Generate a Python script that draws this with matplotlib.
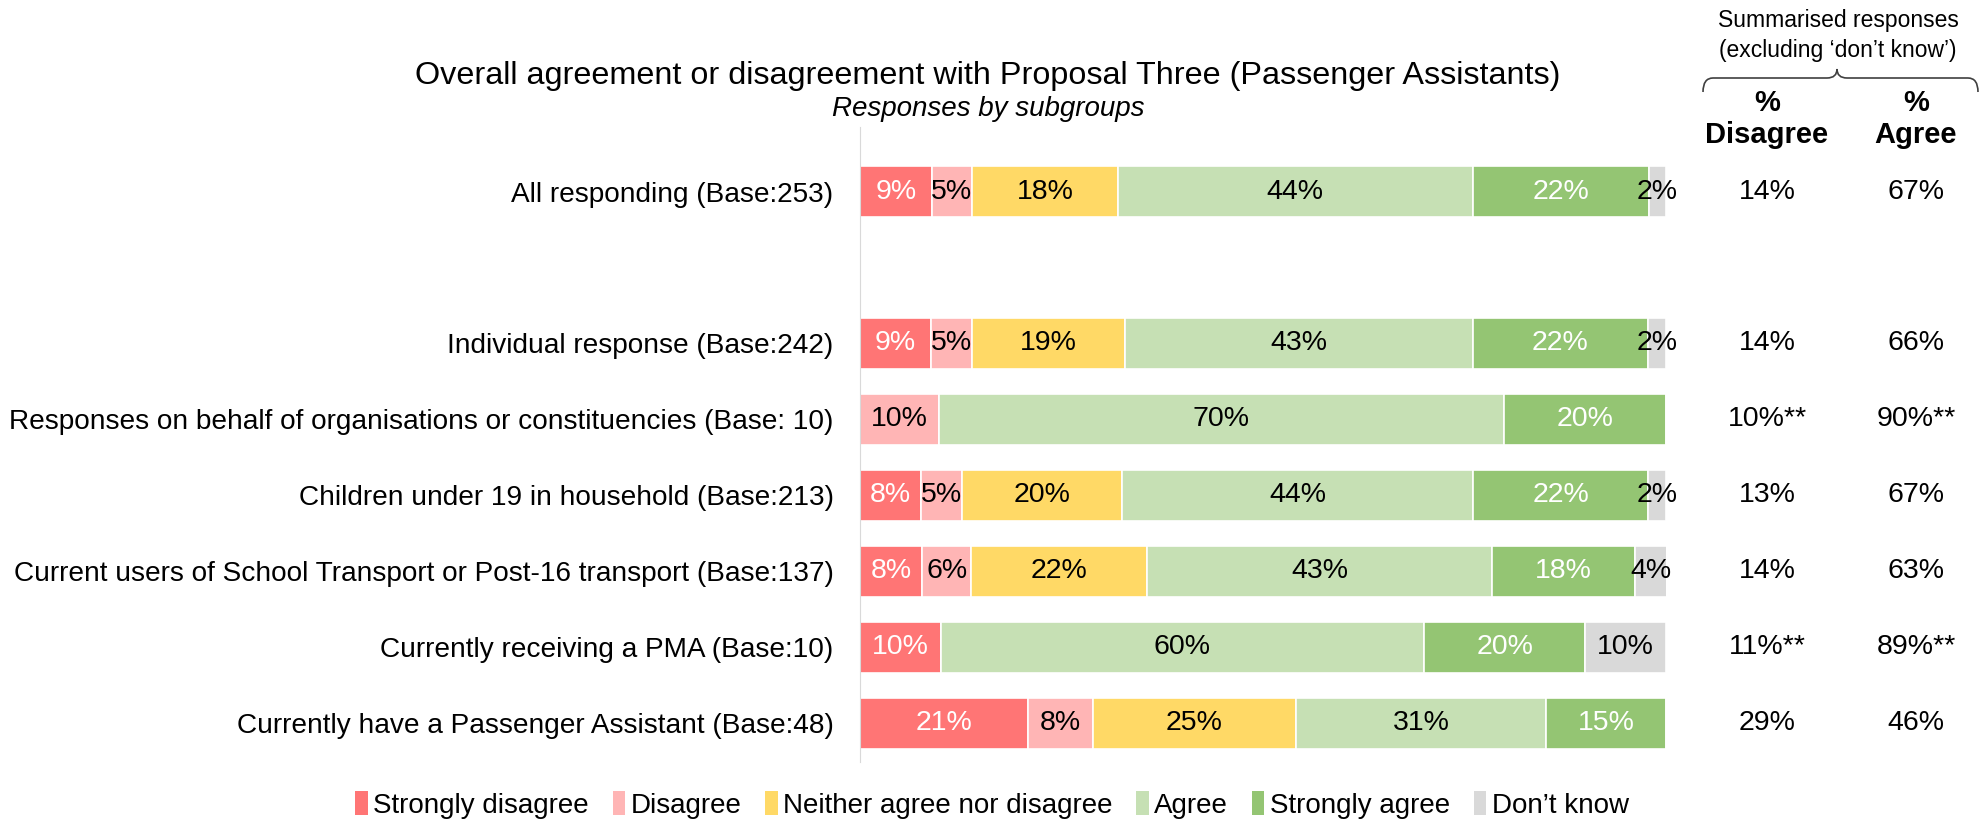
#Proposal Three - subgroup agreement stacked bars
import matplotlib
matplotlib.use("Agg")
import matplotlib.pyplot as plt
from matplotlib.path import Path
from matplotlib.patches import PathPatch, Patch
from matplotlib.transforms import blended_transform_factory

plt.rcParams['font.family'] = ['Liberation Sans', 'DejaVu Sans']

groups = [
    "All responding (Base:253)",
    "Individual response (Base:242)",
    "Responses on behalf of organisations or constituencies (Base: 10)",
    "Children under 19 in household (Base:213)",
    "Current users of School Transport or Post-16 transport (Base:137)",
    "Currently receiving a PMA (Base:10)",
    "Currently have a Passenger Assistant (Base:48)",
]

categories = ["Strongly disagree", "Disagree", "Neither agree nor disagree",
              "Agree", "Strongly agree", "Don\u2019t know"]

strongly_disagree = [8.9, 8.8, 0, 7.6, 7.7, 10.0, 20.8]
disagree = [5.0, 5.1, 9.8, 5.1, 6.1, 0, 8.1]
neither = [18.1, 19.0, 0, 19.8, 21.8, 0, 25.2]
agree = [44.0, 43.1, 70.1, 43.6, 42.8, 60.0, 31.0]
strongly_agree = [21.9, 21.8, 20.1, 21.7, 17.7, 20.0, 14.9]
dont_know = [2.1, 2.2, 0, 2.2, 4.0, 10.0, 0]

pct_disagree = ["14%", "14%", "10%**", "13%", "14%", "11%**", "29%"]
pct_agree = ["67%", "66%", "90%**", "67%", "63%", "89%**", "46%"]

colors = ["#FF7575", "#FFB5B5", "#FFD966", "#C6E0B4", "#94C573", "#D9D9D9"]
text_colors = ["white", "black", "black", "black", "white", "black"]

W, H = 1988, 821
fig = plt.figure(figsize=(W / 100, H / 100), dpi=100)

# pixel helpers (top-left origin)
def fx(x):
    return x / W

def fy(y):
    return 1 - y / H

ax = fig.add_axes([fx(860), fy(762), fx(1666) - fx(860), fy(127) - fy(762)])

# blank row after "All responding"
ypos = [0, 2, 3, 4, 5, 6, 7]

series = [strongly_disagree, disagree, neither, agree, strongly_agree, dont_know]
left = [0.0] * len(groups)
for vals, col, tcol in zip(series, colors, text_colors):
    ax.barh(ypos, vals, left=left, height=0.67, color=col,
            edgecolor="white", linewidth=1.2)
    for y, l, v in zip(ypos, left, vals):
        if v > 0:
            ax.text(l + v / 2, y, f"{round(v)}%", ha="center", va="center",
                    fontsize=20.5, color=tcol)
    left = [l + v for l, v in zip(left, vals)]

ax.set_xlim(0, 100)
ax.set_ylim(7.51, -0.85)
ax.set_yticks(ypos)
ax.set_yticklabels(groups, fontsize=20.2)
ax.tick_params(axis="y", length=0, pad=19)
ax.set_xticks([])
for s in ["top", "right", "bottom"]:
    ax.spines[s].set_visible(False)
ax.spines["left"].set_color("#D9D9D9")

# summary columns
tr = blended_transform_factory(fig.transFigure, ax.transData)
for y, dv, av in zip(ypos, pct_disagree, pct_agree):
    ax.text(fx(1767), y, dv, transform=tr, ha="center", va="center", fontsize=20.5)
    ax.text(fx(1916), y, av, transform=tr, ha="center", va="center", fontsize=20.5)

# titles
fig.text(fx(988), fy(76), "Overall agreement or disagreement with Proposal Three (Passenger Assistants)",
         ha="center", va="center", fontsize=23.3)
fig.text(fx(988), fy(109), "Responses by subgroups", ha="center", va="center",
         fontsize=20, style="italic")

# summary header
fig.text(fx(1838), fy(21), "Summarised responses", ha="center", va="center", fontsize=16.5)
fig.text(fx(1838), fy(50), "(excluding \u2018don\u2019t know\u2019)", ha="center", va="center", fontsize=16.5)
fig.text(fx(1767), fy(103), "%", ha="center", va="center", fontsize=21, weight="bold")
fig.text(fx(1767), fy(135), "Disagree", ha="center", va="center", fontsize=21, weight="bold")
fig.text(fx(1916), fy(103), "%", ha="center", va="center", fontsize=21, weight="bold")
fig.text(fx(1916), fy(135), "Agree", ha="center", va="center", fontsize=21, weight="bold")

# curly brace over the two summary columns
x0, xm, x1 = 1703, 1837, 1978
yb, yl, yt = 92, 78, 69
verts = [(x0, yb), (x0, yl), (x0 + 10, yl),
         (xm - 10, yl), (xm, yl), (xm, yt),
         (xm, yl), (xm + 10, yl),
         (x1 - 10, yl), (x1, yl), (x1, yb)]
codes = [Path.MOVETO, Path.CURVE3, Path.CURVE3,
         Path.LINETO, Path.CURVE3, Path.CURVE3,
         Path.CURVE3, Path.CURVE3,
         Path.LINETO, Path.CURVE3, Path.CURVE3]
brace = Path([(fx(x), fy(y)) for x, y in verts], codes)
fig.add_artist(PathPatch(brace, transform=fig.transFigure, fill=False,
                         edgecolor="#404040", linewidth=1.2))

# legend
handles = [Patch(facecolor=c, edgecolor="none") for c in colors]
fig.legend(handles, categories, loc="center", bbox_to_anchor=(fx(992), fy(805)),
           ncol=6, frameon=False, fontsize=20, handlelength=0.45, handleheight=0.9,
           handletextpad=0.2, columnspacing=0.85)

fig.savefig("out.png", dpi=100)
